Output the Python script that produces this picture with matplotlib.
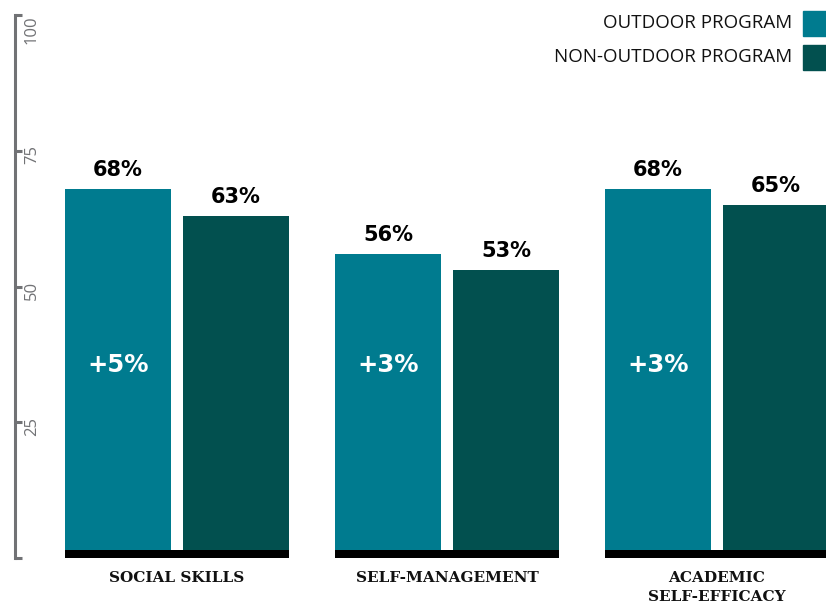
import matplotlib.pyplot as plt
import numpy as np

categories = ["SOCIAL SKILLS", "SELF-MANAGEMENT", "ACADEMIC\nSELF-EFFICACY"]
outdoor = [68, 56, 68]
non_outdoor = [63, 53, 65]
series_names = ["OUTDOOR PROGRAM", "NON-OUTDOOR PROGRAM"]
y_ticks = [0, 25, 50, 75, 100]

TEAL = "#007b8f"
DARK = "#02504f"
GRAY = "#717275"

fig = plt.figure(figsize=(8.26, 6.07), dpi=100)
ax = fig.add_axes([15 / 826, 49 / 607, 811 / 826, 543 / 607])

x = np.arange(len(categories))
w = 0.393
off = 0.2185

ax.bar(x - off, outdoor, w, color=TEAL, zorder=2)
ax.bar(x + off, non_outdoor, w, color=DARK, zorder=2)
# black base strip under each pair
ax.bar(x, 1.4, 0.83, color="black", zorder=3)

for xs, vals in [(x - off, outdoor), (x + off, non_outdoor)]:
    for xi, v in zip(xs, vals):
        ax.text(xi, v + 2.4, f"{v}%", ha="center", va="baseline",
                fontsize=15, fontweight="bold", family="DejaVu Sans",
                color="black")

# difference printed inside the outdoor bar
for xi, a, b in zip(x - off, outdoor, non_outdoor):
    ax.text(xi, 35.5, f"+{a - b}%", ha="center", va="center", fontsize=17.5,
            fontweight="bold", family="DejaVu Sans", color="white")

ax.set_xlim(-0.6, 2.404)
ax.set_ylim(0, 100)

for s in ["top", "right", "bottom"]:
    ax.spines[s].set_visible(False)
ax.spines["left"].set_color(GRAY)
ax.spines["left"].set_linewidth(2.2)
ax.set_xticks([])
ax.set_yticks(y_ticks)
ax.tick_params(axis="y", direction="in", length=5, width=2.2, color=GRAY,
               labelleft=False)
for t in y_ticks[1:]:
    ax.text(0.011, t + (0 if t == 100 else 1.0), str(t),
            transform=ax.get_yaxis_transform(), rotation=90,
            ha="left", va="top", fontsize=12, family="Open Sans",
            color=GRAY)

# category names below the axis
for xi, c in zip(x, categories):
    ax.text(xi, -2.4, c, ha="center", va="top", fontsize=11,
            fontweight="bold", family="DejaVu Serif", color="#111111",
            linespacing=1.45)

# legend, right aligned
for i, (name, col) in enumerate(zip(series_names, [TEAL, DARK])):
    yc = 1 - (23 + 34 * i) / 607
    fig.text(792 / 826, yc, name, ha="right", va="center", fontsize=13.5,
             family="Open Sans", color="#111111")
    fig.patches.append(plt.Rectangle((803 / 826, yc - 12.5 / 607),
                                     23 / 826, 25 / 607, color=col,
                                     transform=fig.transFigure, figure=fig))

fig.savefig("out.png", dpi=100)
